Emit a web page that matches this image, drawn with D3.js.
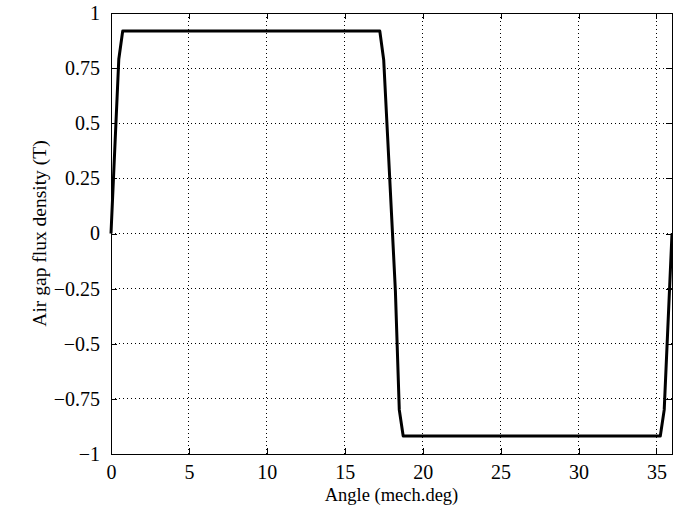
<!DOCTYPE html>
<html>
<head>
<meta charset="utf-8">
<script src="https://cdn.jsdelivr.net/npm/d3@7"></script>
<style>
  html, body { margin: 0; padding: 0; background: #fff; }
  svg { display: block; font-family: "Liberation Serif", "Times New Roman", serif; }
</style>
</head>
<body>
<svg id="chart" width="673" height="520"></svg>
<script>
// Air gap flux density over one pole pair (mechanical degrees)
const angleDeg = [0, 0.5, 0.75, 17.25, 17.5, 17.75, 18.0, 18.25, 18.5, 18.75, 35.25, 35.5, 36];
const fluxT    = [0, 0.79, 0.918, 0.918, 0.787, 0.44, 0.09, -0.26, -0.80, -0.918, -0.918, -0.80, 0];

const xTicks = [0, 5, 10, 15, 20, 25, 30, 35];
const yTicks = [-1, -0.75, -0.5, -0.25, 0, 0.25, 0.5, 0.75, 1];
const yTickLabels = ["−1", "−0.75", "−0.5", "−0.25", "0", "0.25", "0.5", "0.75", "1"];
const xTickLabels = ["0", "5", "10", "15", "20", "25", "30", "35"];

const margin = { left: 111, top: 13, right: 672, bottom: 454 };
const svg = d3.select("#chart");

const x = d3.scaleLinear().domain([0, 36]).range([margin.left, margin.right]);
const y = d3.scaleLinear().domain([-1, 1]).range([margin.bottom, margin.top]);

const tickFont = 20;
const titleFont = 18.5;

// dotted grid
const grid = svg.append("g");
grid.selectAll("line.gx").data(xTicks).join("line")
  .attr("x1", d => x(d)).attr("x2", d => x(d))
  .attr("y1", margin.top).attr("y2", margin.bottom)
  .attr("stroke", "#000").attr("stroke-width", 1)
  .attr("stroke-dasharray", "1,3").attr("shape-rendering", "crispEdges");
grid.selectAll("line.gy").data(yTicks).join("line")
  .attr("x1", margin.left).attr("x2", margin.right)
  .attr("y1", d => y(d)).attr("y2", d => y(d))
  .attr("stroke", "#000").attr("stroke-width", 1)
  .attr("stroke-dasharray", "1,3").attr("shape-rendering", "crispEdges");

// axes with inward ticks on all four sides
const tickLen = 6;
const axB = d3.axisBottom(x).tickValues(xTicks).tickFormat((d, i) => xTickLabels[i])
  .tickSizeInner(-tickLen).tickSizeOuter(0).tickPadding(11);
const axL = d3.axisLeft(y).tickValues(yTicks).tickFormat((d, i) => yTickLabels[i])
  .tickSizeInner(-tickLen).tickSizeOuter(0).tickPadding(11);
const axT = d3.axisTop(x).tickValues(xTicks).tickFormat("")
  .tickSizeInner(-tickLen).tickSizeOuter(0);
const axR = d3.axisRight(y).tickValues(yTicks).tickFormat("")
  .tickSizeInner(-tickLen).tickSizeOuter(0);

function styleAxis(g) {
  g.select(".domain").remove();
  g.selectAll(".tick line").attr("stroke", "#000").attr("shape-rendering", "crispEdges");
  g.selectAll(".tick text").attr("fill", "#000")
    .style("font-family", '"Liberation Serif", "Times New Roman", serif')
    .style("font-size", tickFont + "px");
}

svg.append("g").attr("transform", `translate(0,${margin.bottom})`).call(axB).call(styleAxis);
svg.append("g").attr("transform", `translate(${margin.left},0)`).call(axL).call(styleAxis);
svg.append("g").attr("transform", `translate(0,${margin.top})`).call(axT).call(styleAxis);
svg.append("g").attr("transform", `translate(${margin.right},0)`).call(axR).call(styleAxis);

// frame
svg.append("rect")
  .attr("x", margin.left).attr("y", margin.top)
  .attr("width", margin.right - margin.left).attr("height", margin.bottom - margin.top)
  .attr("fill", "none").attr("stroke", "#000").attr("stroke-width", 1)
  .attr("shape-rendering", "crispEdges");

// flux density curve
const pts = angleDeg.map((a, i) => [a, fluxT[i]]);
const line = d3.line().x(d => x(d[0])).y(d => y(d[1]));
svg.append("path")
  .datum(pts)
  .attr("d", line)
  .attr("fill", "none")
  .attr("stroke", "#000")
  .attr("stroke-width", 3)
  .attr("stroke-linejoin", "round");

// axis titles
svg.append("text")
  .attr("x", (margin.left + margin.right) / 2)
  .attr("y", 501)
  .attr("text-anchor", "middle")
  .style("font-size", titleFont + "px")
  .text("Angle (mech.deg)");

svg.append("text")
  .attr("transform", `translate(46,${(margin.top + margin.bottom) / 2}) rotate(-90)`)
  .attr("text-anchor", "middle")
  .style("font-size", (titleFont + 1) + "px")
  .text("Air gap flux density (T)");
</script>
</body>
</html>
